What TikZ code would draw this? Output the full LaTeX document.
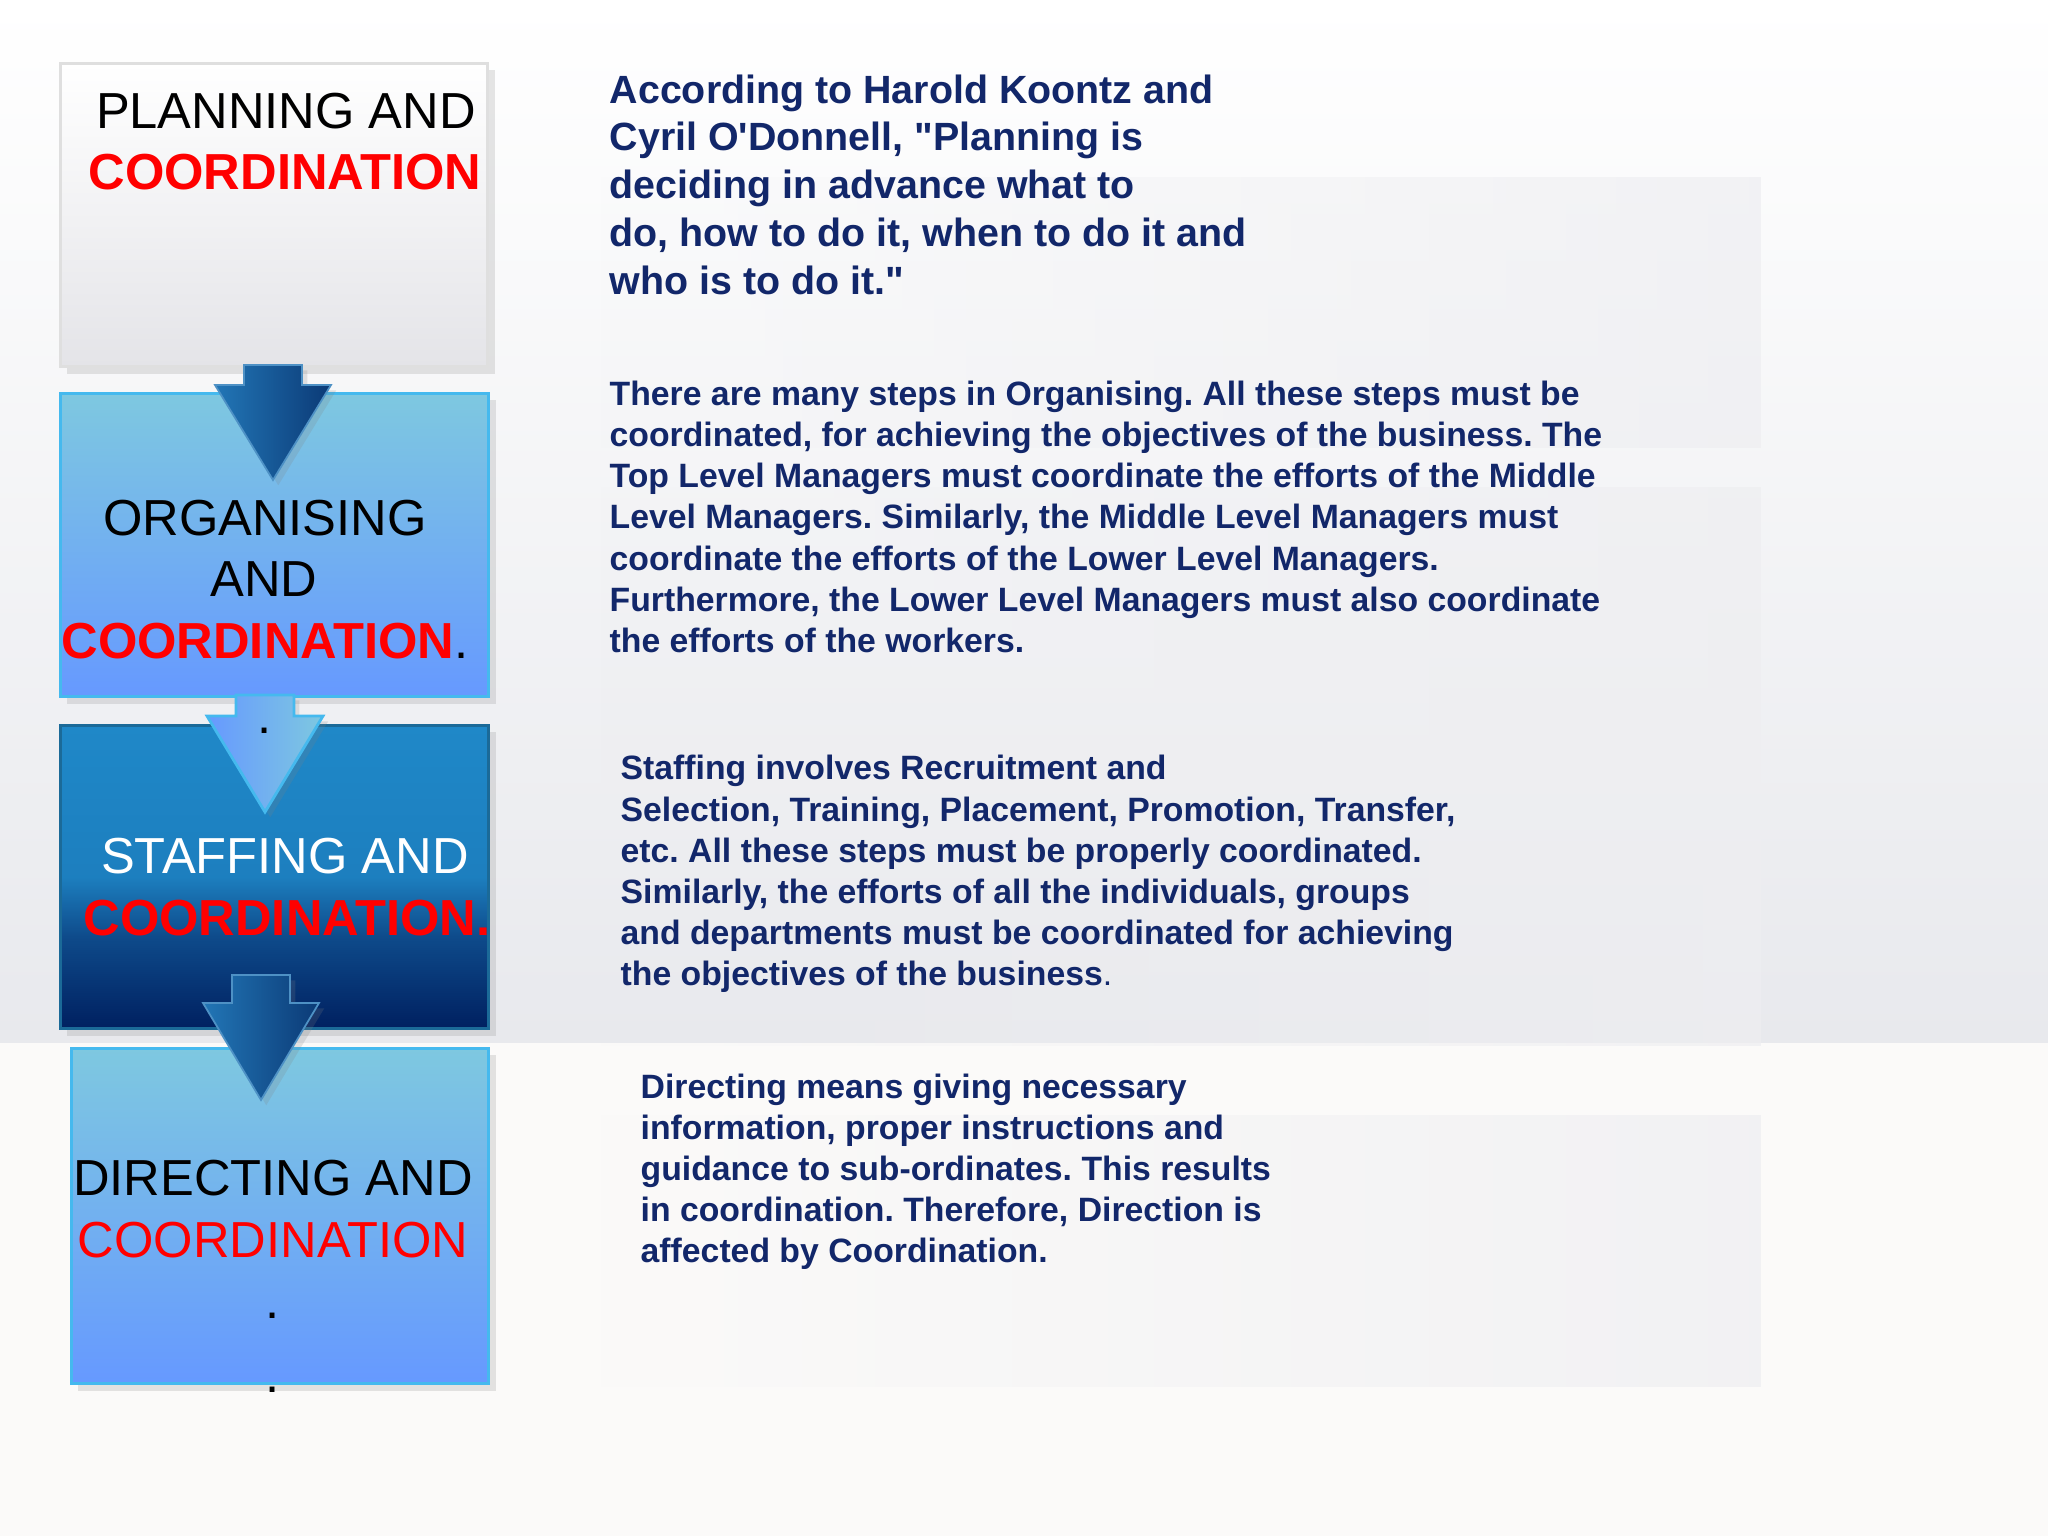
\documentclass[tikz,border=0pt]{standalone}
\usepackage{fontspec}
\setmainfont{Liberation Sans}[Ligatures=TeXOff]
\frenchspacing
\usetikzlibrary{shadows,fadings}
\definecolor{navy}{HTML}{12276A}
\definecolor{bggray}{HTML}{E8E9ED}
\definecolor{bglow}{HTML}{FBFAF9}
\definecolor{panel}{HTML}{EEEEF1}
\definecolor{plangray}{HTML}{E4E4E8}
\definecolor{skytop}{HTML}{7EC8E0}
\definecolor{skybot}{HTML}{6699FF}
\definecolor{edgecyan}{HTML}{45B9EE}
\definecolor{deeptop}{HTML}{1F88C8}
\definecolor{deepmid}{HTML}{0E4A8A}
\definecolor{deepbot}{HTML}{002060}
\definecolor{deepedge}{HTML}{1B6A98}
\definecolor{arrowlt}{HTML}{2276B6}
\definecolor{arrowdk}{HTML}{0B3A76}
\pgfdeclareverticalshading{deepfade}{100bp}{color(0bp)=(deepbot); color(25bp)=(deepbot);
  color(40bp)=(deepmid); color(50bp)=(deeptop!85!deepmid); color(75bp)=(deeptop); color(100bp)=(deeptop)}
\tikzset{
  box/.style      = {rectangle, anchor=north west, inner sep=0pt, line width=0.8pt,
                     drop shadow={shadow xshift=2pt, shadow yshift=-2pt, opacity=.2}},
  planbox/.style  = {box, top color=white, bottom color=plangray, draw=gray!25},
  skybox/.style   = {box, top color=skytop, bottom color=skybot, draw=edgecyan},
  deepbox/.style  = {box, shade, shading=deepfade, draw=deepedge},
  darkarrow/.style = {left color=arrowlt, right color=arrowdk, draw=arrowlt!80!white,
                     line width=0.5pt, drop shadow={shadow xshift=1.5pt, shadow yshift=-1.5pt, opacity=.2}},
  palearrow/.style = {left color=skybot, right color=skytop, draw=edgecyan,
                     line width=0.8pt, drop shadow={shadow xshift=1.5pt, shadow yshift=-1.5pt, opacity=.2}},
  lbl/.style      = {anchor=base, inner sep=0pt, font=\fontsize{14.4pt}{17pt}\selectfont},
  hot/.style      = {lbl, text=red, font=\fontsize{14.4pt}{17pt}\selectfont\bfseries},
  para/.style     = {anchor=base west, align=left, inner sep=0pt, text=navy,
                     font=\bfseries\fontsize{9.6pt}{11.66pt}\selectfont},
  quote/.style    = {para, font=\bfseries\fontsize{11.2pt}{13.57pt}\selectfont}
}

\begin{document}
\begin{tikzpicture}[x=0.01cm, y=-0.01cm]

\useasboundingbox (0,0) rectangle (2048,1536);

% backdrop
\fill[top color=white, bottom color=bggray] (0,0) rectangle (2048,1043);
\fill[bglow] (0,1043) rectangle (2048,1536);
\foreach \ya/\yb in {177/448, 487/1046, 1115/1387}
  \fill[panel, path fading=west, opacity=.7] (600,\ya) rectangle (1762,\yb);

% boxes
\node[planbox, minimum width=4.27cm, minimum height=3.03cm] (plan) at (59,62) {};
\node[skybox, minimum width=4.28cm, minimum height=3.03cm] (organise) at (59,392) {};
\node[deepbox, minimum width=4.28cm, minimum height=3.03cm] (staff) at (59,724) {};
\node[skybox, minimum width=4.17cm, minimum height=3.35cm] (direct) at (70,1047) {};

% arrows
\foreach \cx/\ya/\yb/\yc/\st in {273/365/385/480/darkarrow, 265/695/716/812/palearrow, 261/975/1003/1100/darkarrow}
  \draw[\st] (\cx-29,\ya) -- (\cx+29,\ya) -- (\cx+29,\yb) -- (\cx+58,\yb) -- (\cx,\yc)
    -- (\cx-58,\yb) -- (\cx-29,\yb) -- cycle;

% box labels
\node[lbl] (plan-a) at (286,128) {PLANNING AND};
\node[hot] (plan-b) at (285,189) {COORDINATION};

\node[lbl] (organise-a) at (265,535) {ORGANISING};
\node[lbl] (organise-b) at (264,596) {AND};
\node[lbl] (organise-c) at (265,658) {\textcolor{red}{\bfseries COORDINATION}.};
\node[lbl] (dot-a) at (265,733) {.};

\node[lbl, text=white] (staff-a) at (285,873) {STAFFING AND};
\node[hot] (staff-b) at (287,935) {COORDINATION.};

\node[lbl] (direct-a) at (273,1195) {DIRECTING AND};
\node[lbl, text=red] (direct-b) at (273,1257) {COORDINATION};
\node[lbl] (dot-b) at (273,1318) {.};
\node[lbl] (dot-c) at (273,1392) {.};

% notes (anchored on the last line)
\node[quote] (note-plan) at (609,294) {According to Harold Koontz and\\
  Cyril O'Donnell, "Planning is\\
  deciding in advance what to\\
  do, how to do it, when to do it and\\
  who is to do it."};

\node[para] (note-organise) at (609,652) {There are many steps in Organising. All these steps must be\\
  coordinated, for achieving the objectives of the business. The\\
  Top Level Managers must coordinate the efforts of the Middle\\
  Level Managers. Similarly, the Middle Level Managers must\\
  coordinate the efforts of the Lower Level Managers.\\
  Furthermore, the Lower Level Managers must also coordinate\\
  the efforts of the workers.};

\node[para] (note-staff) at (620,985) {Staffing involves Recruitment and\\
  Selection, Training, Placement, Promotion, Transfer,\\
  etc. All these steps must be properly coordinated.\\
  Similarly, the efforts of all the individuals, groups\\
  and departments must be coordinated for achieving\\
  the objectives of the business{\mdseries .}};

\node[para] (note-direct) at (640,1262) {Directing means giving necessary\\
  information, proper instructions and\\
  guidance to sub-ordinates. This results\\
  in coordination. Therefore, Direction is\\
  affected by Coordination.};

\end{tikzpicture}
\end{document}
